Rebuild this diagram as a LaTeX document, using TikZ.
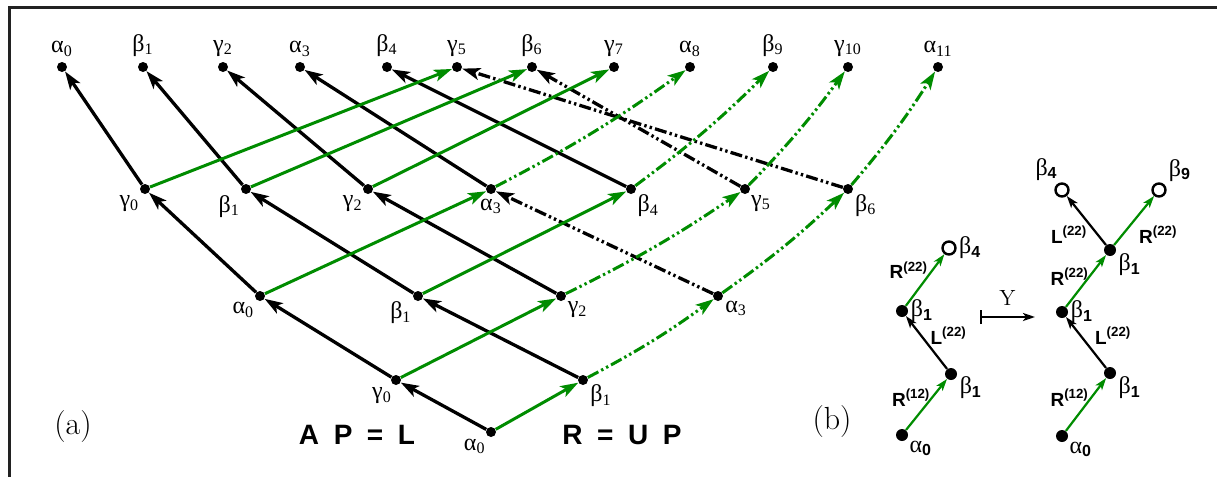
\documentclass[tikz,border=0pt]{standalone}
\usepackage{fontspec}
\setsansfont{Liberation Sans}
\newfontfamily\grk{Liberation Serif}
\usepackage{tikz}
\usetikzlibrary{arrows.meta}
\definecolor{leaf}{HTML}{008C00}
\definecolor{rule}{HTML}{222222}
\newcommand{\gl}[2]{{\grk #1\textsubscript{#2}}}
\newcommand{\gb}[2]{{\grk #1}\textsubscript{\sffamily\bfseries #2}}
\newcommand{\opr}[2]{#1\textsuperscript{(#2)}}

\tikzset{
  dot/.style={circle,fill,inner sep=0pt,minimum size=5pt},
  bdot/.style={circle,fill,inner sep=0pt,minimum size=6pt},
  hole/.style={circle,draw,fill=white,line width=1.2pt,inner sep=0pt,minimum size=6.5pt},
  lab/.style={font=\fontsize{12}{14}\selectfont,inner sep=1pt},
  oplab/.style={font=\sffamily\bfseries\fontsize{9.5}{11}\selectfont,inner sep=1pt,text=black},
  eqn/.style={font=\sffamily\bfseries\fontsize{14}{16}\selectfont,execute at begin node={\spaceskip=0.52em\relax}},
  ddot/.style={dash pattern=on 6pt off 1.6pt on 1.2pt off 1.6pt on 1.2pt off 1.6pt},
  lmove/.style={->,line width=1.65pt},
  rmove/.style={->,leaf,line width=1.5pt},
  lskip/.style={lmove,ddot},
  rskip/.style={rmove,ddot,bend right=4},
  lstep/.style={-{Stealth[length=6pt,width=4pt,inset=1.5pt]},line width=1.1pt},
  rstep/.style={lstep,leaf},
}

\begin{document}
\begin{tikzpicture}[x=0.5pt,y=-0.5pt,>={Stealth[length=9pt,width=6pt,inset=2.2pt]}]
\useasboundingbox (0,0) rectangle (1217,477);
\draw[rule,line width=1.5pt] (9,477) -- (9,7) -- (1217,7);

% (a) top row
\node[dot,label={[lab,label distance=1.5pt]above:\gl{α}{0}}] (t0) at (62,67) {};
\node[dot,label={[lab,label distance=1.5pt]above:\gl{β}{1}}] (t1) at (143,67) {};
\node[dot,label={[lab,label distance=1.5pt]above:\gl{γ}{2}}] (t2) at (223,67) {};
\node[dot,label={[lab,label distance=1.5pt]above:\gl{α}{3}}] (t3) at (300,67) {};
\node[dot,label={[lab,label distance=1.5pt]above:\gl{β}{4}}] (t4) at (387,67) {};
\node[dot,label={[lab,label distance=1.5pt]above:\gl{γ}{5}}] (t5) at (457,67) {};
\node[dot,label={[lab,label distance=1.5pt]above:\gl{β}{6}}] (t6) at (532,67) {};
\node[dot,label={[lab,label distance=1.5pt]above:\gl{γ}{7}}] (t7) at (614,67) {};
\node[dot,label={[lab,label distance=1.5pt]above:\gl{α}{8}}] (t8) at (690,67) {};
\node[dot,label={[lab,label distance=1.5pt]above:\gl{β}{9}}] (t9) at (773,67) {};
\node[dot,label={[lab,label distance=1.5pt]above:\gl{γ}{10}}] (t10) at (848,67) {};
\node[dot,label={[lab,label distance=1.5pt]above:\gl{α}{11}}] (t11) at (938,67) {};

% second row
\node[dot,label={[lab]230:\gl{γ}{0}}] (m0) at (145,189) {};
\node[dot,label={[lab]225:\gl{β}{1}}] (m1) at (246,189) {};
\node[dot,label={[lab]235:\gl{γ}{2}}] (m2) at (368,189) {};
\node[dot,label={[lab,label distance=1pt]270:\gl{α}{3}}] (m3) at (491,189) {};
\node[dot,label={[lab]-40:\gl{β}{4}}] (m4) at (631,189) {};
\node[dot,label={[lab]-45:\gl{γ}{5}}] (m5) at (745,189) {};
\node[dot,label={[lab]-30:\gl{β}{6}}] (m6) at (848,189) {};

% third row
\node[dot,label={[lab]230:\gl{α}{0}}] (n0) at (260,296) {};
\node[dot,label={[lab]220:\gl{β}{1}}] (n1) at (418,296) {};
\node[dot,label={[lab]-35:\gl{γ}{2}}] (n2) at (561,296) {};
\node[dot,label={[lab]-25:\gl{α}{3}}] (n3) at (718,296) {};

% fourth row and root
\node[dot,label={[lab]250:\gl{γ}{0}}] (p0) at (396,380) {};
\node[dot,label={[lab]-25:\gl{β}{1}}] (p1) at (583,380) {};
\node[dot,label={[lab]235:\gl{α}{0}}] (s0) at (491,432) {};

% L moves
\draw[lmove] (s0) -- (p0);
\draw[lmove] (p0) -- (n0);
\draw[lmove] (p1) -- (n1);
\draw[lmove] (n0) -- (m0);
\draw[lmove] (n1) -- (m1);
\draw[lmove] (n2) -- (m2);
\draw[lmove] (m0) -- (t0);
\draw[lmove] (m1) -- (t1);
\draw[lmove] (m2) -- (t2);
\draw[lmove] (m3) -- (t3);
\draw[lmove] (m4) -- (t4);
\draw[lskip] (n3) -- (m3);
\draw[lskip] (m5) -- (t6);
\draw[lskip] (m6) -- (t5);

% R moves
\draw[rmove] (s0) -- (p1);
\draw[rmove] (p0) -- (n2);
\draw[rmove] (n0) -- (m3);
\draw[rmove] (n1) -- (m4);
\draw[rmove] (m0) -- (t5);
\draw[rmove] (m1) -- (t6);
\draw[rmove] (m2) -- (t7);
\draw[rskip] (p1) to (n3);
\draw[rskip] (n2) to (m5);
\draw[rskip] (n3) to (m6);
\draw[rskip] (m3) to (t8);
\draw[rskip] (m4) to (t9);
\draw[rskip] (m5) to (t10);
\draw[rskip] (m6) to (t11);

\node[font=\fontsize{16}{19}\selectfont] (capa) at (73,427) {(a)};
\node[eqn] (eql) at (357,435) {A P = L};
\node[eqn] (eqr) at (622,435) {R = U P};

% (b) left chain
\node[bdot,label={[lab]-35:\gb{α}{0}}] (a0) at (902,435) {};
\node[bdot,label={[lab]-5:\gb{β}{1}}] (a1) at (951,374) {};
\node[bdot,label={[lab]0:\gb{β}{1}}] (a2) at (902,311) {};
\node[hole,label={[lab]0:\gb{β}{4}}] (a3) at (949,248) {};
\draw[rstep] (a0) -- (a1) node[midway,oplab,left=-3.5pt,yshift=3.5pt] (ra1) {\opr{R}{12}};
\draw[lstep] (a1) -- (a2) node[midway,oplab,right=0.5pt,yshift=3.5pt] (la1) {\opr{L}{22}};
\draw[rstep] (a2) -- (a3) node[midway,oplab,left=-3pt,yshift=5pt] (ra2) {\opr{R}{22}};

\coordinate (ya) at (980,317);
\coordinate (yb) at (1035,317);
\draw[{Bar[width=7pt]}-{Stealth[length=6pt,width=4pt,inset=1.5pt]},line width=1.1pt] (ya) -- (yb)
  node[midway,above=2pt,font=\fontsize{11}{13}\selectfont] (ylab) {Y};

% (b) right chain
\node[bdot,label={[lab]-35:\gb{α}{0}}] (c0) at (1062,436) {};
\node[bdot,label={[lab]-10:\gb{β}{1}}] (c1) at (1110,373) {};
\node[bdot,label={[lab]0:\gb{β}{1}}] (c2) at (1062,312) {};
\node[bdot,label={[lab]-15:\gb{β}{1}}] (c3) at (1110,250) {};
\node[hole,label={[lab]105:\gb{β}{4}}] (c4) at (1062,190) {};
\node[hole,label={[lab,label distance=1pt]40:\gb{β}{9}}] (c5) at (1159,190) {};
\draw[rstep] (c0) -- (c1) node[midway,oplab,left=-3pt,yshift=3.5pt] (rc1) {\opr{R}{12}};
\draw[lstep] (c1) -- (c2) node[midway,oplab,right=3pt,yshift=3.5pt] (lc1) {\opr{L}{22}};
\draw[rstep] (c2) -- (c3) node[midway,oplab,left=-3pt,yshift=2pt] (rc2) {\opr{R}{22}};
\draw[lstep] (c3) -- (c4) node[midway,oplab,left=-2pt,yshift=-7pt] (lc2) {\opr{L}{22}};
\draw[rstep] (c3) -- (c5) node[midway,oplab,right=1pt,yshift=-7pt] (rc3) {\opr{R}{22}};

\node[font=\fontsize{16}{19}\selectfont] (capb) at (832,422) {(b)};
\end{tikzpicture}
\end{document}
